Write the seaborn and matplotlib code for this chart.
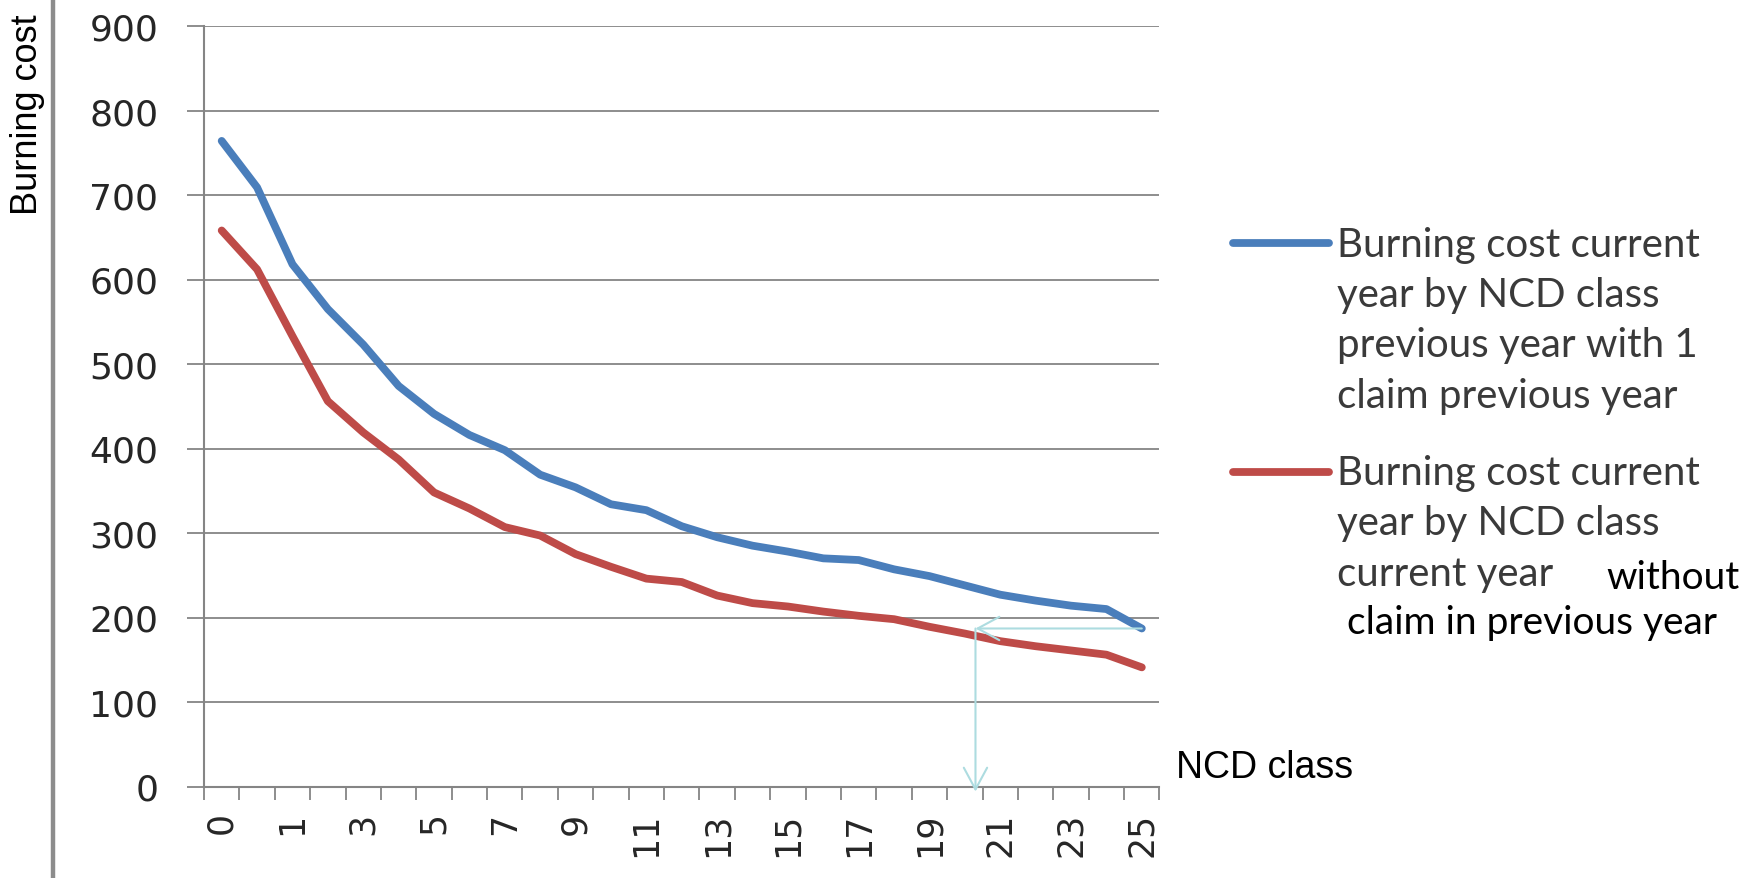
import numpy as np
import pandas as pd
import matplotlib
matplotlib.use("Agg")
import matplotlib.pyplot as plt
from matplotlib.lines import Line2D
import seaborn as sns

# Burning cost for each NCD class position along the category axis
cost_with_claim = [764, 709, 618, 565, 523, 474, 441, 416, 398, 369, 354, 334, 327,
                   308, 295, 285, 278, 270, 268, 257, 249, 238, 227, 220, 214, 210, 187]
cost_without_claim = [658, 612, 533, 456, 419, 387, 348, 329, 307, 297, 275, 260, 246,
                      242, 226, 217, 213, 207, 202, 198, 189, 181, 172, 166, 161, 156, 141]

# Labels printed on every second class position
ncd_tick_labels = ["0", "1", "3", "5", "7", "9", "11", "13", "15", "17", "19", "21", "23", "25"]
y_ticks = [0, 100, 200, 300, 400, 500, 600, 700, 800, 900]

series_names = ["with 1 claim previous year", "without claim in previous year"]
legend_with_claim = ["Burning cost current", "year by NCD class",
                     "previous year with 1", "claim previous year"]
legend_without_claim = ["Burning cost current", "year by NCD class", "current year"]
legend_extra_word = "without"
legend_extra_line = "claim in previous year"

lookup_class_pos = 21.3

BLUE = "#4A7EBB"
RED = "#BE4B48"
GRID = "#858585"
ARROW = "#ADDCE0"
TEXT = "#262626"
TICK_FONT = "DejaVu Sans"
LEGEND_FONT = "Lato"

sns.set_theme(style="white")
plt.rcParams["font.family"] = ["DejaVu Sans"]

W, H = 1756, 879
fig = plt.figure(figsize=(W / 100, H / 100), dpi=100)
fig.patch.set_facecolor("white")


def fx(px):
    return px / W


def fy(py):
    return 1 - py / H


ax = fig.add_axes([fx(204), fy(787.5), fx(1159.5) - fx(204), fy(27) - fy(787.5)])

positions = np.arange(len(cost_with_claim))
df = pd.DataFrame({
    "position": np.concatenate([positions, positions]),
    "cost": cost_with_claim + cost_without_claim,
    "series": [series_names[0]] * len(positions) + [series_names[1]] * len(positions),
})

sns.lineplot(data=df, x="position", y="cost", hue="series", hue_order=series_names,
             palette=[BLUE, RED], linewidth=5.6, legend=False, ax=ax, sort=False,
             solid_capstyle="round", solid_joinstyle="round", zorder=3)

ax.set_xlim(-0.5, len(positions) - 0.5)
ax.set_ylim(0, 900)
ax.set_xlabel("")
ax.set_ylabel("")

# y axis
ax.set_yticks(y_ticks)
ax.set_yticklabels([str(v) for v in y_ticks])
ax.tick_params(axis="y", which="major", length=12, width=1.3, color=GRID,
               pad=21, left=True, direction="out", labelsize=26,
               labelcolor=TEXT, labelfontfamily=TICK_FONT)
ax.yaxis.grid(True, color=GRID, linewidth=1.3)
ax.xaxis.grid(False)
ax.set_axisbelow(True)

# x axis: tick marks between categories, labels on every second category
ax.set_xticks(np.arange(-0.5, len(positions), 1.0))
ax.set_xticklabels([])
ax.tick_params(axis="x", which="major", length=9, width=1.3, color=GRID,
               bottom=True, direction="out")
ax.set_xticks(positions[::2], minor=True)
ax.set_xticklabels(ncd_tick_labels, minor=True, rotation=90)
ax.tick_params(axis="x", which="minor", length=0, pad=18, labelsize=25,
               labelcolor=TEXT, labelfontfamily=TICK_FONT)

for lbl in ax.get_yticklabels() + ax.get_xticklabels(minor=True):
    lbl.set_fontfamily(TICK_FONT)

for side in ("top", "right"):
    ax.spines[side].set_visible(False)
for side in ("left", "bottom"):
    ax.spines[side].set_color(GRID)
    ax.spines[side].set_linewidth(1.5)

fig.text(fx(28), fy(115), "Burning cost", rotation=90, ha="center", va="center",
         family="Liberation Sans", fontsize=26, color="black")

# reading arrows: from the last "with claim" point across, then down to the axis
y_read = cost_with_claim[-1]
arrow_style = "->,head_length=1.3,head_width=0.7"
ax.annotate("", xy=(lookup_class_pos, y_read), xytext=(positions[-1], y_read),
            arrowprops=dict(arrowstyle=arrow_style, color=ARROW, lw=1.5,
                            shrinkA=0, shrinkB=0),
            annotation_clip=False, zorder=4)
ax.annotate("", xy=(lookup_class_pos, -6), xytext=(lookup_class_pos, y_read),
            arrowprops=dict(arrowstyle=arrow_style, color=ARROW, lw=1.5,
                            shrinkA=0, shrinkB=0),
            annotation_clip=False, zorder=4)

# legend drawn beside the plot
legend_font = dict(family=LEGEND_FONT, fontsize=29, color="#3a3a3a")
for color, y_line in ((BLUE, 244), (RED, 473)):
    fig.add_artist(Line2D([fx(1233), fx(1329)], [fy(y_line), fy(y_line)],
                          color=color, lw=5.6, solid_capstyle="round",
                          transform=fig.transFigure))

pitch = 50.5
for i, line in enumerate(legend_with_claim):
    fig.text(fx(1337), fy(245 + i * pitch), line, ha="left", va="center", **legend_font)
for i, line in enumerate(legend_without_claim):
    fig.text(fx(1337), fy(473.5 + i * pitch), line, ha="left", va="center", **legend_font)

fig.text(fx(1606), fy(578), legend_extra_word, ha="left", va="center",
         family=LEGEND_FONT, fontsize=28, color="black")
fig.text(fx(1347), fy(623), legend_extra_line, ha="left", va="center",
         family=LEGEND_FONT, fontsize=28, color="black")

fig.text(fx(1176), fy(768), "NCD class", ha="left", va="center",
         family="Liberation Sans", fontsize=27, color="black")

# vertical rule at the left edge
fig.add_artist(Line2D([fx(53), fx(53)], [0, 1], color="#8c8c8c", lw=3.2,
                      transform=fig.transFigure))

fig.savefig("out.png", dpi=100, facecolor="white")
